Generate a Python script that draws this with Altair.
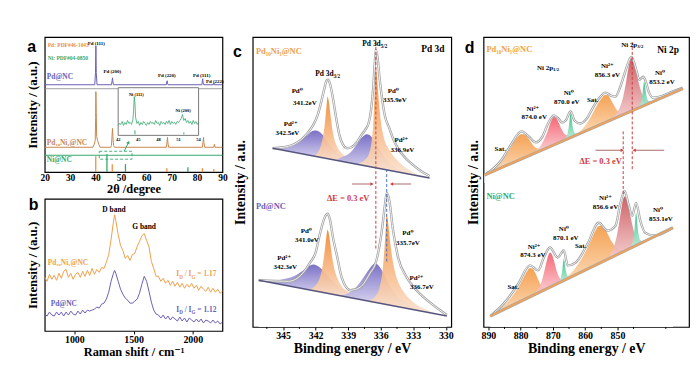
import altair as alt
import pandas as pd

SERIF = "'Liberation Serif', 'Times New Roman', 'DejaVu Serif', serif"
SANS = "'Liberation Sans', Arial, sans-serif"

PURPLE = "#6b60b6"
ORANGE = "#f0a04b"
BROWN = "#c8884f"
GREEN = "#35a86e"
RED = "#d13b3b"
ENV = "#9e9e9e"
OR_T, OR_B = "#f3842a", "#fbe6d6"
PU_T, PU_B = "#6f64c2", "#ebe9f7"
SAT_T, SAT_B = "#f49a45", "#fcd9b5"
RD_T, RD_B = "#c9555b", "#f6d0d0"
PK_T, PK_B = "#f45b6b", "#fbd3d6"
GR_T, GR_B = "#2dbd84", "#c9f1df"

# ------------------------------------------------------------------ (a) XRD
a_pd_2t = [20, 39.7, 40.0, 40.15, 40.3, 40.6, 46.3, 46.55, 46.7, 46.85, 47.1,
           67.9, 68.1, 68.25, 68.4, 68.6, 81.9, 82.1, 82.25, 82.4, 82.6,
           86.4, 86.6, 86.8, 90]
a_pd_int = [88, 88, 100, 127, 100, 88, 88, 92, 95, 91, 88,
            88, 91, 92, 89, 88, 88, 92, 94, 90, 88,
            88, 89.5, 88, 88]
a_pdni_2t = [20, 39.0, 39.5, 39.9, 40.05, 40.15, 40.3, 40.45, 40.8, 41.3, 41.8,
             46.0, 46.3, 46.55, 46.7, 46.85, 47.1, 47.5,
             67.9, 68.2, 68.35, 68.5, 68.8, 82.1, 82.4, 82.55, 82.7, 83.0,
             86.6, 86.85, 87.1, 90]
a_pdni_int = [25, 25, 28, 32, 55, 81, 60, 36, 32, 28, 25,
              25, 27, 38, 44, 36, 27, 25,
              25, 31, 35, 30, 25, 25, 31, 35, 30, 25,
              25, 28, 25, 25]
a_ni_2t = [20, 90]
a_ni_int = [17, 17]
a_sep_2t = [20, 90]
a_sep_int = [84, 84]
a_pdref_2t = [40.1, 46.6, 68.1, 82.1, 86.6]
a_pdref_int = [16, 8, 4, 4, 3]
a_niref_2t = [44.5, 51.8, 76.4]
a_niref_int = [18, 8, 5]
a_peak_text = ["Pd (111)", "Pd (200)", "Pd (220)", "Pd (311)", "Pd (222)"]
a_peak_2t = [40.3, 46.6, 68.1, 81.8, 87.0]
a_peak_int = [130, 102, 98, 98, 92]
a_box_2t = [41.5, 54.4]
a_box_int = [13, 21]
a_arrow_2t = [51.3, 53.0]
a_arrow_int = [21, 30]
a_in_2t = [42.0, 42.2, 42.4, 42.6, 42.8, 43.0, 43.2, 43.4, 43.6, 43.8, 44.0, 44.2,
           44.3, 44.4, 44.5, 44.6,
           44.8, 45.0, 45.2, 45.4, 45.6, 45.8, 46.0, 46.2, 46.4, 46.6, 46.8, 47.0,
           47.2, 47.4, 47.6, 47.8, 48.0, 48.2, 48.4, 48.6, 48.8, 49.0, 49.2, 49.4,
           49.6, 49.8, 50.0, 50.2, 50.4, 50.6, 50.8, 51.0, 51.2, 51.4,
           51.5, 51.6, 51.7, 51.8,
           52.0, 52.2, 52.4, 52.6, 52.8, 53.0, 53.2, 53.4, 53.6, 53.8, 54.0]
a_in_int = [47, 49, 48, 51, 47, 50, 48, 52, 49, 50, 48, 53,
            62, 76, 70, 55,
            49, 51, 47, 50, 48, 51, 49, 47, 50, 48, 51, 49,
            50, 48, 52, 49, 50, 47, 51, 49, 50, 48, 51, 49,
            52, 48, 51, 49, 50, 48, 51, 50, 52, 54,
            56, 58, 55, 52,
            54, 50, 52, 49, 51, 48, 52, 49, 51, 48, 50]
a_in_frame_2t = [42, 54]
a_in_frame_int = [37, 85]
a_in_ticks = [42, 45, 48, 51, 54]
a_in_peak_text = ["Ni (111)", "Ni (200)"]
a_in_peak_2t = [44.7, 51.7]
a_in_peak_int = [78, 62]
a_in_mark_2t = [44.5, 51.8]
a_in_mark_int = [42, 40]

# ------------------------------------------------------------------ (b) Raman
b_shift = [750, 770, 790, 810, 830, 850, 870, 890, 910, 930, 950, 970, 990, 1010,
           1030, 1050, 1070, 1090, 1110, 1130, 1150, 1170, 1190, 1210, 1230, 1250,
           1270, 1290, 1310, 1330, 1340, 1350, 1370, 1390, 1410, 1430, 1450, 1470,
           1490, 1510, 1530, 1550, 1570, 1590, 1610, 1630, 1650, 1670, 1690, 1710,
           1730, 1750, 1770, 1790, 1810, 1830, 1850, 1870, 1890, 1910, 1930, 1950,
           1970, 1990, 2010, 2030, 2050, 2070, 2090, 2110, 2130, 2150, 2170, 2190,
           2210, 2230, 2250]
b_pdni = [54, 50, 57, 52, 56, 51, 58, 53, 60, 62, 54, 58, 52, 57, 59, 54, 60, 55,
          61, 56, 63, 57, 62, 59, 64, 63, 69, 77, 92, 110, 117, 111, 97, 86, 81,
          73, 76, 71, 77, 78, 85, 90, 96, 98, 91, 85, 70, 63, 55, 55, 50, 53, 48,
          51, 46, 50, 45, 49, 44, 48, 43, 47, 44, 48, 43, 46, 41, 45, 42, 40, 44,
          39, 43, 39, 42, 38, 40]
b_pd = [17, 15, 19, 16, 15, 19, 16, 19, 15, 19, 16, 20, 17, 16, 20, 17, 21, 18,
        21, 20, 21, 22, 24, 23, 27, 28, 32, 39, 50, 58, 61, 58, 50, 42, 37, 33,
        31, 28, 28, 30, 32, 38, 47, 55, 50, 40, 29, 21, 17, 16, 13, 16, 12, 15,
        11, 14, 12, 10, 14, 10, 13, 9, 13, 11, 9, 12, 9, 12, 8, 11, 10, 8, 11,
        8, 10, 7, 9]

# ------------------------------------------------------------------ (c) Pd 3d
c_up_base_e, c_up_base_y = [345.97, 331.5], [180, 150]
c_up_env_e = [345.97, 345.0, 344.0, 343.3, 342.7, 342.2, 341.8, 341.5, 341.2, 341.0,
              340.85, 340.65, 340.4, 340.1, 339.8, 339.5, 339.1, 338.7, 338.2, 337.8,
              337.4, 337.1, 336.9, 336.7, 336.55, 336.45, 336.3, 336.1, 335.85, 335.6,
              335.2, 334.8, 334.3, 333.7, 333.0, 332.3, 331.5]
c_up_env_y = [180, 181, 184, 189, 196, 204, 214, 226, 240, 248,
              249, 244, 230, 210, 193, 184, 180, 181, 186, 193,
              199, 206, 218, 240, 266, 279, 272, 250, 228, 212,
              200, 188, 178, 170, 163, 157, 152]
c_up_p32_e = [345.2, 344.5, 344.0, 343.5, 343.0, 342.6, 342.3, 342.0, 341.7, 341.4, 341.0, 340.6, 340.2, 339.6, 339.0, 338.5]
c_up_p32_y = [179.5, 181, 183, 186, 191, 195, 197.5, 198, 197, 194, 188, 182, 177, 172, 169, 167]
c_up_o32_e = [342.2, 341.8, 341.5, 341.3, 341.15, 341.0, 340.9, 340.8, 340.65, 340.5, 340.3, 340.0, 339.6, 339.0, 338.3, 337.5]
c_up_o32_y = [172, 176, 183, 193, 205, 222, 232, 228, 215, 202, 190, 181, 175, 170.5, 167, 164]
c_up_p52_e = [340.0, 339.5, 339.0, 338.6, 338.2, 337.8, 337.5, 337.3, 337.0, 336.7, 336.3, 335.9, 335.4, 334.8, 334.0, 333.2]
c_up_p52_y = [169, 171.5, 174, 178, 184, 190, 193, 194, 193, 189, 182, 175, 168, 162, 157, 153]
c_up_o52_e = [338.0, 337.5, 337.1, 336.85, 336.7, 336.58, 336.45, 336.35, 336.2, 336.0, 335.7, 335.3, 334.8, 334.2, 333.5, 332.7, 331.8]
c_up_o52_y = [165, 168, 174, 186, 203, 230, 262, 252, 230, 208, 190, 180, 172, 165, 159, 154, 151.5]

c_lo_base_e, c_lo_base_y = [347.25, 329.9], [47, 11]
c_lo_env_e = [347.25, 344.5, 343.2, 342.5, 342.0, 341.6, 341.1, 340.9, 340.7, 340.4,
              340.0, 339.6, 338.8, 337.9, 337.0, 336.4, 335.9, 335.6, 335.45, 335.2,
              334.9, 334.4, 333.6, 332.7, 331.5, 330.3, 329.9]
c_lo_env_y = [47, 46, 54, 65, 75, 94, 112, 114, 109, 90,
              70, 50, 37, 40, 54, 67, 97, 124, 135, 127,
              100, 70, 50, 37, 25, 15, 12]
c_lo_p32_e = [346.5, 345.5, 344.8, 344.0, 343.4, 342.9, 342.5, 342.2, 341.9, 341.5, 341.1, 340.6, 340.0, 339.3, 338.5, 337.8]
c_lo_p32_y = [46, 47, 48.5, 51, 55, 59, 62, 63, 62, 59, 54, 48, 42, 37, 33, 30]
c_lo_o32_e = [342.5, 342.0, 341.6, 341.35, 341.15, 341.0, 340.9, 340.8, 340.65, 340.5, 340.3, 340.0, 339.6, 339.0, 338.3, 337.5]
c_lo_o32_y = [38, 42, 50, 62, 78, 92, 98, 95, 84, 72, 60, 49, 41, 35.5, 32, 28.5]
c_lo_p52_e = [339.8, 339.2, 338.7, 338.2, 337.7, 337.2, 336.8, 336.55, 336.3, 336.0, 335.6, 335.2, 334.7, 334.0, 333.2, 332.4]
c_lo_p52_y = [32, 33, 36, 41, 48, 56, 62, 64, 63, 59, 51, 42, 34, 27, 22, 18]
c_lo_o52_e = [337.0, 336.5, 336.1, 335.85, 335.65, 335.52, 335.45, 335.35, 335.2, 335.0, 334.7, 334.3, 333.8, 333.1, 332.3, 331.3, 330.3]
c_lo_o52_y = [27, 31, 40, 55, 80, 102, 114, 108, 92, 74, 56, 43, 34, 26, 20, 15, 12]

c_lab_text = ["Pd⁰", "341.2eV", "Pd²⁺", "342.5eV", "Pd⁰", "335.9eV", "Pd²⁺", "336.9eV",
              "Pd⁰", "341.0eV", "Pd²⁺", "342.3eV", "Pd⁰", "335.7eV", "Pd²⁺", "336.7eV"]
c_lab_e = [343.7, 343.0, 344.3, 344.6, 334.85, 334.7, 334.1, 334.0,
           342.86, 342.8, 344.9, 344.8, 333.5, 333.5, 332.7, 332.2]
c_lab_y = [238, 226, 204, 195, 238, 229, 188, 178,
           97, 88, 69, 60, 95, 85, 49, 40]
c_minor = [346.5, 343.5, 340.5, 337.5, 334.5, 331.5]

# ------------------------------------------------------------------ (d) Ni 2p
d_up_base_e, d_up_base_y = [891.2, 829.7], [153, 240]
d_up_env_e = [891.2, 886.0, 882.9, 879.8, 877.5, 875.3, 873.2, 871.5, 869.7, 868.3,
              867.2, 866.0, 864.5, 863.3, 861.5, 859.5, 857.4, 855.5, 853.7, 852.0,
              850.6, 849.1, 847.5, 846.3, 845.7, 845.0, 844.0, 843.2, 842.0, 841.3,
              840.3, 839.0, 836.8, 833.0, 829.7]
d_up_env_y = [153, 168, 184, 197, 192, 186, 192, 205, 213, 210,
              206, 208, 217, 208, 205, 210, 222, 231, 236, 233,
              232, 242, 258, 269, 272, 268, 257, 249, 252, 248,
              237, 231, 232, 237, 241]
d_up_s1_e = [889.0, 887.0, 885.0, 883.0, 881.5, 880.5, 879.8, 879.0, 878.0, 877.0, 876.0, 875.0, 874.0, 873.0]
d_up_s1_y = [157, 163, 171, 181, 189, 193, 194.5, 194, 191.5, 187, 182.5, 180, 179.3, 179]
d_up_n1_e = [875.0, 874.0, 873.0, 872.0, 871.0, 870.3, 869.7, 869.0, 868.3, 867.5, 866.5, 865.5, 864.5]
d_up_n1_y = [178, 181.5, 187, 194, 203.5, 209, 211.5, 210.5, 206.5, 200.5, 195, 193, 192.3]
d_up_g1_e = [866.8, 866.0, 865.5, 865.1, 864.8, 864.5, 864.2, 863.9, 863.5, 863.0, 862.2]
d_up_g1_y = [188, 190.7, 194.4, 201, 209.4, 215, 210.2, 202.6, 197.2, 195, 194.5]
d_up_s2_e = [862.5, 861.0, 859.5, 858.0, 856.7, 855.5, 854.5, 853.7, 853.0, 852.2, 851.3, 850.3, 849.2, 848.0]
d_up_s2_y = [194.6, 198.8, 205, 213, 221, 227.5, 232, 234, 233.5, 230, 224.5, 219, 215.5, 215]
d_up_n3_e = [851.5, 850.3, 849.2, 848.2, 847.3, 846.5, 845.7, 845.0, 844.2, 843.3, 842.3, 841.2, 840.0, 839.0]
d_up_n3_y = [210.7, 215, 221.5, 232, 247, 262.3, 270.4, 267.4, 257.5, 244.8, 234.2, 228.8, 227.4, 227.3]
d_up_g3_e = [844.0, 843.2, 842.7, 842.3, 842.0, 841.7, 841.4, 841.1, 840.7, 840.2, 839.4]
d_up_g3_y = [220.3, 222.9, 226.6, 233.2, 241.6, 247, 242.5, 234.9, 229.5, 227.2, 226.8]

d_lo_base_e, d_lo_base_y = [889.4, 832.8], [11, 100]
d_lo_env_e = [889.4, 885.1, 880.8, 877.1, 874.6, 872.8, 870.9, 868.5, 866.6, 865.4,
              862.9, 859.2, 855.8, 853.1, 850.6, 849.1, 847.8, 846.6, 845.4, 844.2,
              842.9, 841.4, 838.5, 832.8]
d_lo_env_y = [11, 24, 43, 62, 57, 70, 80, 70, 77, 62,
              65, 84, 105, 97, 102, 124, 137, 124, 112, 125,
              107, 95, 92, 100]
d_lo_s1_e = [888.0, 886.0, 884.0, 882.0, 880.3, 878.8, 877.8, 877.1, 876.3, 875.4, 874.5, 873.6, 872.6, 871.5]
d_lo_s1_y = [14.2, 19.3, 25.5, 33.6, 42.3, 51.7, 57.2, 59.3, 58.6, 54, 47.4, 41.8, 39.4, 39.6]
d_lo_n1_e = [875.5, 874.5, 873.6, 872.8, 872.0, 871.4, 870.9, 870.3, 869.6, 868.9, 868.1, 867.2, 866.2]
d_lo_n1_y = [34.4, 38.4, 44.8, 54.1, 65.4, 72.3, 75.1, 73, 66.1, 57.2, 50.5, 47.9, 48]
d_lo_g1_e = [868.6, 867.9, 867.5, 867.1, 866.85, 866.6, 866.35, 866.1, 865.7, 865.3, 864.6]
d_lo_g1_y = [44.2, 46.8, 50.4, 57.1, 64.4, 68.8, 65.2, 58.6, 53.3, 50.9, 50.5]
d_lo_s2_e = [867.0, 865.0, 863.0, 861.2, 859.6, 858.2, 857.0, 855.8, 854.8, 853.8, 852.8, 851.8, 850.6, 849.2, 847.8]
d_lo_s2_y = [47.2, 52.4, 59.5, 68.3, 77.8, 87, 95.9, 101.8, 101.4, 98, 92.5, 86.1, 81, 77.7, 77.4]
d_lo_n3_e = [853.0, 852.0, 851.0, 850.0, 849.2, 848.5, 847.8, 847.1, 846.4, 845.6, 844.7, 843.7, 842.5, 841.3]
d_lo_n3_y = [69.7, 73.8, 81.4, 94.9, 110.2, 124.3, 131.4, 128.5, 118.6, 105.9, 94.3, 87.8, 86.7, 87.1]
d_lo_g3_e = [846.3, 845.6, 845.1, 844.7, 844.45, 844.2, 843.95, 843.7, 843.3, 842.8, 842.0]
d_lo_g3_y = [79.3, 82.9, 88.7, 98.3, 108.7, 115.1, 109.5, 99.8, 91.5, 87.2, 86]

d_lab_text = ["Ni²⁺", "856.3 eV", "Ni⁰", "853.2 eV", "Sat.", "Ni⁰", "870.0 eV", "Ni²⁺", "874.0 eV", "Sat.",
              "Ni²⁺", "856.6 eV", "Ni⁰", "853.1eV", "Sat.", "Ni⁰", "870.1 eV", "Ni²⁺", "874.3 eV", "Sat."]
d_lab_e = [853.1, 853.1, 836.8, 836.2, 857.7, 865.1, 865.7, 876.2, 875.8, 886.3,
           853.7, 853.7, 837.4, 836.5, 861.4, 866.6, 866.0, 875.8, 876.2, 882.3]
d_lab_y = [263, 254, 256, 247, 229, 236, 227, 220, 211, 179,
           130, 121, 118, 109, 82, 99, 90, 81, 72, 40]
d_minor = [885, 875, 865, 855, 845, 835]

# ------------------------------------------------------------------ helpers
W = {"I": .389, "D": .722, "G": .778, "/": .278, " ": .25, "=": .57, ".": .25,
     "P": .611, "d": .556, "N": .722, "i": .278, "p": .556}


def tw(s, size):
    return sum(W.get(ch, 0.5) for ch in s) * size


def mk_enc(xs, ys, xa, ya):
    def enc(xf="x", yf="y"):
        return {"x": alt.X(xf, type="quantitative", scale=xs, axis=xa),
                "y": alt.Y(yf, type="quantitative", scale=ys, axis=ya)}
    return enc


def line(enc, xs, ys, color, width, interp="linear", dash=None, opacity=1.0):
    kw = dict(color=color, strokeWidth=width, interpolate=interp, opacity=opacity)
    if dash is not None:
        kw["strokeDash"] = dash
    return alt.Chart(pd.DataFrame({"x": xs, "y": ys})).mark_line(**kw).encode(**enc())


def vrule(enc, x, y1, y2, color, width=1.0, dash=None, opacity=1.0):
    kw = dict(color=color, strokeWidth=width, opacity=opacity)
    if dash is not None:
        kw["strokeDash"] = dash
    df = pd.DataFrame({"x": [x], "y": [y1], "y2": [y2]})
    return alt.Chart(df).mark_rule(**kw).encode(**enc(), y2="y2:Q")


def minor_ticks(enc, xs, length):
    df = pd.DataFrame({"x": xs, "y": [0] * len(xs), "y2": [length] * len(xs)})
    return alt.Chart(df).mark_rule(color="black", strokeWidth=1).encode(**enc(), y2="y2:Q")


def seg(enc, x1, y1, x2, y2, color, width=1.0):
    df = pd.DataFrame({"x": [x1], "y": [y1], "x2": [x2], "y2": [y2]})
    return alt.Chart(df).mark_rule(color=color, strokeWidth=width).encode(**enc(), x2="x2:Q", y2="y2:Q")


def head(enc, x, y, shape, color, size=22, angle=0):
    df = pd.DataFrame({"x": [x], "y": [y]})
    return alt.Chart(df).mark_point(shape=shape, filled=True, size=size, color=color,
                                    opacity=1, angle=angle, strokeWidth=0).encode(**enc())


def sticks(enc, xs, hs, color, width=1.3):
    df = pd.DataFrame({"x": xs, "y": [0] * len(xs), "y2": hs})
    return alt.Chart(df).mark_rule(color=color, strokeWidth=width).encode(**enc(), y2="y2:Q")


def texts(enc, xs, ys, labels, size, color, align="center", font=SERIF, weight="bold"):
    df = pd.DataFrame({"x": xs, "y": ys, "t": labels})
    return alt.Chart(df).mark_text(align=align, baseline="middle", fontSize=size, font=font,
                                   fontWeight=weight, color=color).encode(**enc(), text="t:N")


def rich(enc, x, y, parts, size, color, align="left"):
    sizes = [size if k in ("n", "sp") else size * 0.68 for _, k in parts]
    widths = [tw(t, s) for (t, _), s in zip(parts, sizes)]
    off = 0 if align == "left" else -sum(widths) / 2
    out = []
    for (t, k), s, w in zip(parts, sizes, widths):
        if k != "sp":
            dy = {"n": 0, "sub": size * 0.32, "sup": -size * 0.35}[k]
            df = pd.DataFrame({"x": [x], "y": [y], "t": [t]})
            out.append(alt.Chart(df).mark_text(align="left", baseline="middle", dx=off, dy=dy,
                                               fontSize=s, font=SERIF, fontWeight="bold",
                                               color=color).encode(**enc(), text="t:N"))
        off += w
    return out


def comp(enc, xs, ys, floor, top_c, bot_c, opacity=0.92):
    df = pd.DataFrame({"x": xs, "y": ys, "y2": [floor] * len(xs)})
    grad = alt.Gradient(gradient="linear",
                        stops=[alt.GradientStop(color=top_c, offset=0),
                               alt.GradientStop(color=bot_c, offset=1)],
                        x1=0, x2=0, y1=0, y2=1)
    return alt.Chart(df).mark_area(color=grad, interpolate="monotone", opacity=opacity).encode(**enc(), y2="y2:Q")


def mask(enc, xs, ys, bottom):
    df = pd.DataFrame({"x": xs, "y": ys, "y2": [bottom] * len(xs)})
    return alt.Chart(df).mark_area(color="white", opacity=1).encode(**enc(), y2="y2:Q")


def envelope(enc, xs, ys):
    return [line(enc, xs, ys, ENV, 2.4, "monotone"), line(enc, xs, ys, "white", 0.9, "monotone")]


def xaxis(title, values, tsize, tpad=1, tick=3, lpad=1, lsize=10):
    return alt.Axis(title=title, values=values, format="d", grid=False, domain=False,
                    ticks=tick > 0, tickSize=max(tick, 1), tickColor="black", tickWidth=1,
                    labelFont=SERIF, labelFontWeight="bold", labelFontSize=lsize, labelColor="black",
                    labelPadding=lpad, labelFlush=False, labelOverlap=False,
                    titleFont=SERIF, titleFontWeight="bold", titleFontSize=tsize, titleColor="black",
                    titlePadding=tpad)


def yaxis(title, tsize, tpad):
    return alt.Axis(title=title, labels=False, ticks=False, domain=False, grid=False,
                    titleFont=SERIF, titleFontWeight="bold", titleFontSize=tsize, titleColor="black",
                    titlePadding=tpad)


def sc(lo, hi, rev=False):
    return alt.Scale(domain=[lo, hi], nice=False, zero=False, reverse=rev)


# ------------------------------------------------------------------ panel a
a_ya = yaxis("Intensity / (a.u.)", 13, 5)
a_enc = mk_enc(sc(20, 90), sc(0, 136),
               xaxis("2θ /degree", [20, 30, 40, 50, 60, 70, 80, 90], 12.5, tpad=1, tick=0, lpad=0, lsize=9.5),
               a_ya)
a_main = [
    line(a_enc, a_sep_2t, a_sep_int, "#8a8a8a", 0.8),
    line(a_enc, a_pd_2t, a_pd_int, PURPLE, 1.0),
    line(a_enc, a_pdni_2t, a_pdni_int, BROWN, 1.0),
    line(a_enc, a_ni_2t, a_ni_int, GREEN, 1.2),
    sticks(a_enc, a_pdref_2t, a_pdref_int, "#ec8f43"),
    sticks(a_enc, a_niref_2t, a_niref_int, GREEN),
    alt.Chart(pd.DataFrame({"x": [a_box_2t[0]], "x2": [a_box_2t[1]], "y": [a_box_int[0]], "y2": [a_box_int[1]]}))
    .mark_rect(fillOpacity=0, stroke=GREEN, strokeWidth=0.9, strokeDash=[3, 2])
    .encode(**a_enc(), x2="x2:Q", y2="y2:Q"),
    seg(a_enc, a_arrow_2t[0], a_arrow_int[0], a_arrow_2t[1], a_arrow_int[1], GREEN, 1.0),
    head(a_enc, a_arrow_2t[1], a_arrow_int[1], "triangle-up", GREEN, 14, 25),
    texts(a_enc, a_peak_2t, a_peak_int, a_peak_text, 5, "black"),
    texts(a_enc, [21.2], [128], ["Pd: PDF#46-1043"], 5.5, "#e8914a", "left"),
    texts(a_enc, [21.2], [115], ["Ni: PDF#04-0850"], 5.5, GREEN, "left"),
    texts(a_enc, [20.8], [96], ["Pd@NC"], 7.5, PURPLE, "left"),
    texts(a_enc, [20.8], [29], ["Pd₁₀Ni₁@NC"], 7.5, BROWN, "left"),
    texts(a_enc, [20.8], [12], ["Ni@NC"], 7.5, GREEN, "left"),
    texts(a_enc, [14.9], [126], ["a"], 16, "black", font=SANS),
]
a_in_enc = mk_enc(sc(31.04, 57.56), sc(0, 136), None, a_ya)
a_inset = [
    alt.Chart(pd.DataFrame({"x": [a_in_frame_2t[0]], "x2": [a_in_frame_2t[1]],
                            "y": [a_in_frame_int[0]], "y2": [a_in_frame_int[1]]}))
    .mark_rect(fill="white", stroke="#7a7a7a", strokeWidth=1)
    .encode(**a_in_enc(), x2="x2:Q", y2="y2:Q"),
    line(a_in_enc, a_in_2t, a_in_int, GREEN, 0.8),
    alt.Chart(pd.DataFrame({"x": a_in_mark_2t, "y": [38, 38], "y2": a_in_mark_int}))
    .mark_rule(color=GREEN, strokeWidth=1).encode(**a_in_enc(), y2="y2:Q"),
    texts(a_in_enc, a_in_peak_2t, a_in_peak_int, a_in_peak_text, 4.5, "black"),
    texts(a_in_enc, a_in_ticks, [32] * 5, [str(v) for v in a_in_ticks], 4.5, "black"),
]
chart_a = alt.layer(alt.layer(*a_main), alt.layer(*a_inset)).resolve_scale(x="independent") \
    .properties(width=179, height=136)

# ------------------------------------------------------------------ panel b
b_enc = mk_enc(sc(750, 2250), sc(0, 133),
               xaxis("Raman shift / cm⁻¹", [1000, 1500, 2000], 12.5, tpad=1, tick=3, lpad=1, lsize=10),
               yaxis("Intensity / (a.u.)", 13, 5))
id_ig = lambda v: [("I", "n"), ("D", "sub"), (" ", "sp"), ("/", "n"), (" ", "sp"), ("I", "n"),
                   ("G", "sub"), (" ", "sp"), ("=", "n"), (" ", "sp"), (v, "n")]
b_layers = [
    line(b_enc, b_shift, b_pdni, ORANGE, 1.0),
    line(b_enc, b_shift, b_pd, PURPLE, 1.0),
    texts(b_enc, [1335], [122], ["D band"], 7.5, "black"),
    texts(b_enc, [1589], [105], ["G band"], 7.5, "black"),
    texts(b_enc, [775], [68], ["Pd₁₀Ni₁@NC"], 7.5, ORANGE, "left"),
    texts(b_enc, [800], [27], ["Pd@NC"], 7.5, PURPLE, "left"),
    texts(b_enc, [657], [127], ["b"], 16, "black", font=SANS),
]
b_layers += rich(b_enc, 1860, 57, id_ig("1.17"), 7.5, ORANGE)
b_layers += rich(b_enc, 1860, 21, id_ig("1.12"), 7.5, PURPLE)
chart_b = alt.layer(*b_layers).properties(width=179, height=133)

# ------------------------------------------------------------------ panel c
c_enc = mk_enc(sc(329.5, 347.8, True), sc(0, 292),
               xaxis("Binding energy / eV", [345, 342, 339, 336, 333, 330], 14, tpad=1),
               yaxis("Intensity / a.u.", 14, 5))
c_layers = [
    comp(c_enc, c_up_p32_e, c_up_p32_y, 162, PU_T, PU_B),
    comp(c_enc, c_up_o32_e, c_up_o32_y, 160, OR_T, OR_B),
    comp(c_enc, c_up_p52_e, c_up_p52_y, 151, PU_T, PU_B),
    comp(c_enc, c_up_o52_e, c_up_o52_y, 148, OR_T, OR_B),
    mask(c_enc, c_up_base_e, c_up_base_y, 140),
]
c_layers += envelope(c_enc, c_up_env_e, c_up_env_y)
c_layers.append(line(c_enc, c_up_base_e, c_up_base_y, "#55557f", 1.4))
c_layers += [
    comp(c_enc, c_lo_p32_e, c_lo_p32_y, 25, PU_T, PU_B),
    comp(c_enc, c_lo_o32_e, c_lo_o32_y, 23, OR_T, OR_B),
    comp(c_enc, c_lo_p52_e, c_lo_p52_y, 14, PU_T, PU_B),
    comp(c_enc, c_lo_o52_e, c_lo_o52_y, 10, OR_T, OR_B),
    mask(c_enc, c_lo_base_e, c_lo_base_y, 0),
]
c_layers += envelope(c_enc, c_lo_env_e, c_lo_env_y)
c_layers.append(line(c_enc, c_lo_base_e, c_lo_base_y, "#55557f", 1.4))
c_layers += [
    minor_ticks(c_enc, c_minor, -2),
    vrule(c_enc, 336.45, 287, 77, RED, 1.0, [3, 2]),
    vrule(c_enc, 335.45, 159, 65, "#4a70b5", 1.0, [3, 2]),
    seg(c_enc, 338.65, 144, 336.9, 144, "#a86a6a", 1.0),
    head(c_enc, 336.8, 144, "triangle-right", RED, 14),
    seg(c_enc, 333.2, 144, 334.9, 144, "#a86a6a", 1.0),
    head(c_enc, 335.0, 144, "triangle-left", RED, 14),
    texts(c_enc, [339.0], [130], ["ΔE = 0.3 eV"], 8.5, RED),
    texts(c_enc, c_lab_e, c_lab_y, c_lab_text, 7, "black"),
    texts(c_enc, [347.5], [278], ["Pd₁₀Ni₁@NC"], 8.5, ORANGE, "left"),
    texts(c_enc, [347.5], [122], ["Pd@NC"], 8.5, PURPLE, "left"),
    texts(c_enc, [331.2], [280], ["Pd 3d"], 9.5, "black"),
    texts(c_enc, [349.2], [277], ["c"], 16, "black", font=SANS),
    vrule(c_enc, 328.77, 100, 101, "white", 1.0, opacity=0),
]
c_layers += rich(c_enc, 336.55, 285, [("Pd", "n"), (" ", "sp"), ("3d", "n"), ("5/2", "sub")], 7.5, "black", "center")
c_layers += rich(c_enc, 340.9, 255, [("Pd", "n"), (" ", "sp"), ("3d", "n"), ("3/2", "sub")], 7.5, "black", "center")
chart_c = alt.layer(*c_layers).properties(width=200, height=292)

# ------------------------------------------------------------------ panel d
d_enc = mk_enc(sc(827.8, 891.5, True), sc(0, 292),
               xaxis("Binding energy / eV", [890, 880, 870, 860, 850], 14, tpad=1),
               yaxis("Intensity / a.u.", 14, 3))
d_layers = [
    comp(d_enc, d_up_s1_e, d_up_s1_y, 154, SAT_T, SAT_B),
    comp(d_enc, d_up_n1_e, d_up_n1_y, 174, PK_T, PK_B),
    comp(d_enc, d_up_g1_e, d_up_g1_y, 186, GR_T, GR_B),
    comp(d_enc, d_up_s2_e, d_up_s2_y, 192, SAT_T, SAT_B),
    comp(d_enc, d_up_n3_e, d_up_n3_y, 207, RD_T, RD_B),
    comp(d_enc, d_up_g3_e, d_up_g3_y, 218, GR_T, GR_B),
    mask(d_enc, d_up_base_e, d_up_base_y, 145),
]
d_layers += envelope(d_enc, d_up_env_e, d_up_env_y)
d_layers += [line(d_enc, d_up_base_e, d_up_base_y, "#a8a8a8", 3.0),
             line(d_enc, d_up_base_e, d_up_base_y, "#eea25a", 1.8)]
d_layers += [
    comp(d_enc, d_lo_s1_e, d_lo_s1_y, 11, SAT_T, SAT_B),
    comp(d_enc, d_lo_n1_e, d_lo_n1_y, 31, PK_T, PK_B),
    comp(d_enc, d_lo_g1_e, d_lo_g1_y, 42, GR_T, GR_B),
    comp(d_enc, d_lo_s2_e, d_lo_s2_y, 44, SAT_T, SAT_B),
    comp(d_enc, d_lo_n3_e, d_lo_n3_y, 66, RD_T, RD_B),
    comp(d_enc, d_lo_g3_e, d_lo_g3_y, 77, GR_T, GR_B),
    mask(d_enc, d_lo_base_e, d_lo_base_y, 0),
]
d_layers += envelope(d_enc, d_lo_env_e, d_lo_env_y)
d_layers += [line(d_enc, d_lo_base_e, d_lo_base_y, "#a8a8a8", 3.0),
             line(d_enc, d_lo_base_e, d_lo_base_y, "#eea25a", 1.8)]
d_layers += [
    minor_ticks(d_enc, d_minor, -2),
    vrule(d_enc, 845.4, 287, 159, RED, 1.0, [3, 2]),
    vrule(d_enc, 848.2, 197, 133, RED, 1.0, [3, 2]),
    seg(d_enc, 856.8, 178, 848.8, 178, "#a86a6a", 1.0),
    head(d_enc, 848.5, 178, "triangle-right", RED, 14),
    seg(d_enc, 835.5, 178, 844.5, 178, "#a86a6a", 1.0),
    head(d_enc, 844.8, 178, "triangle-left", RED, 14),
    texts(d_enc, [855.2], [167], ["ΔE = 0.3 eV"], 8.5, RED),
    texts(d_enc, d_lab_e, d_lab_y, d_lab_text, 7, "black"),
    texts(d_enc, [890.6], [280], ["Pd₁₀Ni₁@NC"], 8.5, ORANGE, "left"),
    texts(d_enc, [890.6], [132], ["Ni@NC"], 8.5, GREEN, "left"),
    texts(d_enc, [834.3], [279], ["Ni 2p"], 9.5, "black"),
    texts(d_enc, [895.8], [281], ["d"], 16, "black", font=SANS),
]
d_layers += rich(d_enc, 845.4, 284, [("Ni", "n"), (" ", "sp"), ("2p", "n"), ("3/2", "sub")], 7, "black", "center")
d_layers += rich(d_enc, 871.5, 261, [("Ni", "n"), (" ", "sp"), ("2p", "n"), ("1/2", "sub")], 7, "black", "center")
chart_d = alt.layer(*d_layers).properties(width=207, height=292)

# ------------------------------------------------------------------ assemble
col1 = alt.vconcat(chart_a, chart_b, spacing=0)
chart = alt.hconcat(col1, chart_c, chart_d, spacing=3.5).properties(
    padding={"left": 18, "top": 27, "right": 2, "bottom": 2}
).configure_view(stroke="black", strokeWidth=1.2)

chart.save("out.html", embed_options={"renderer": "svg", "actions": False})
